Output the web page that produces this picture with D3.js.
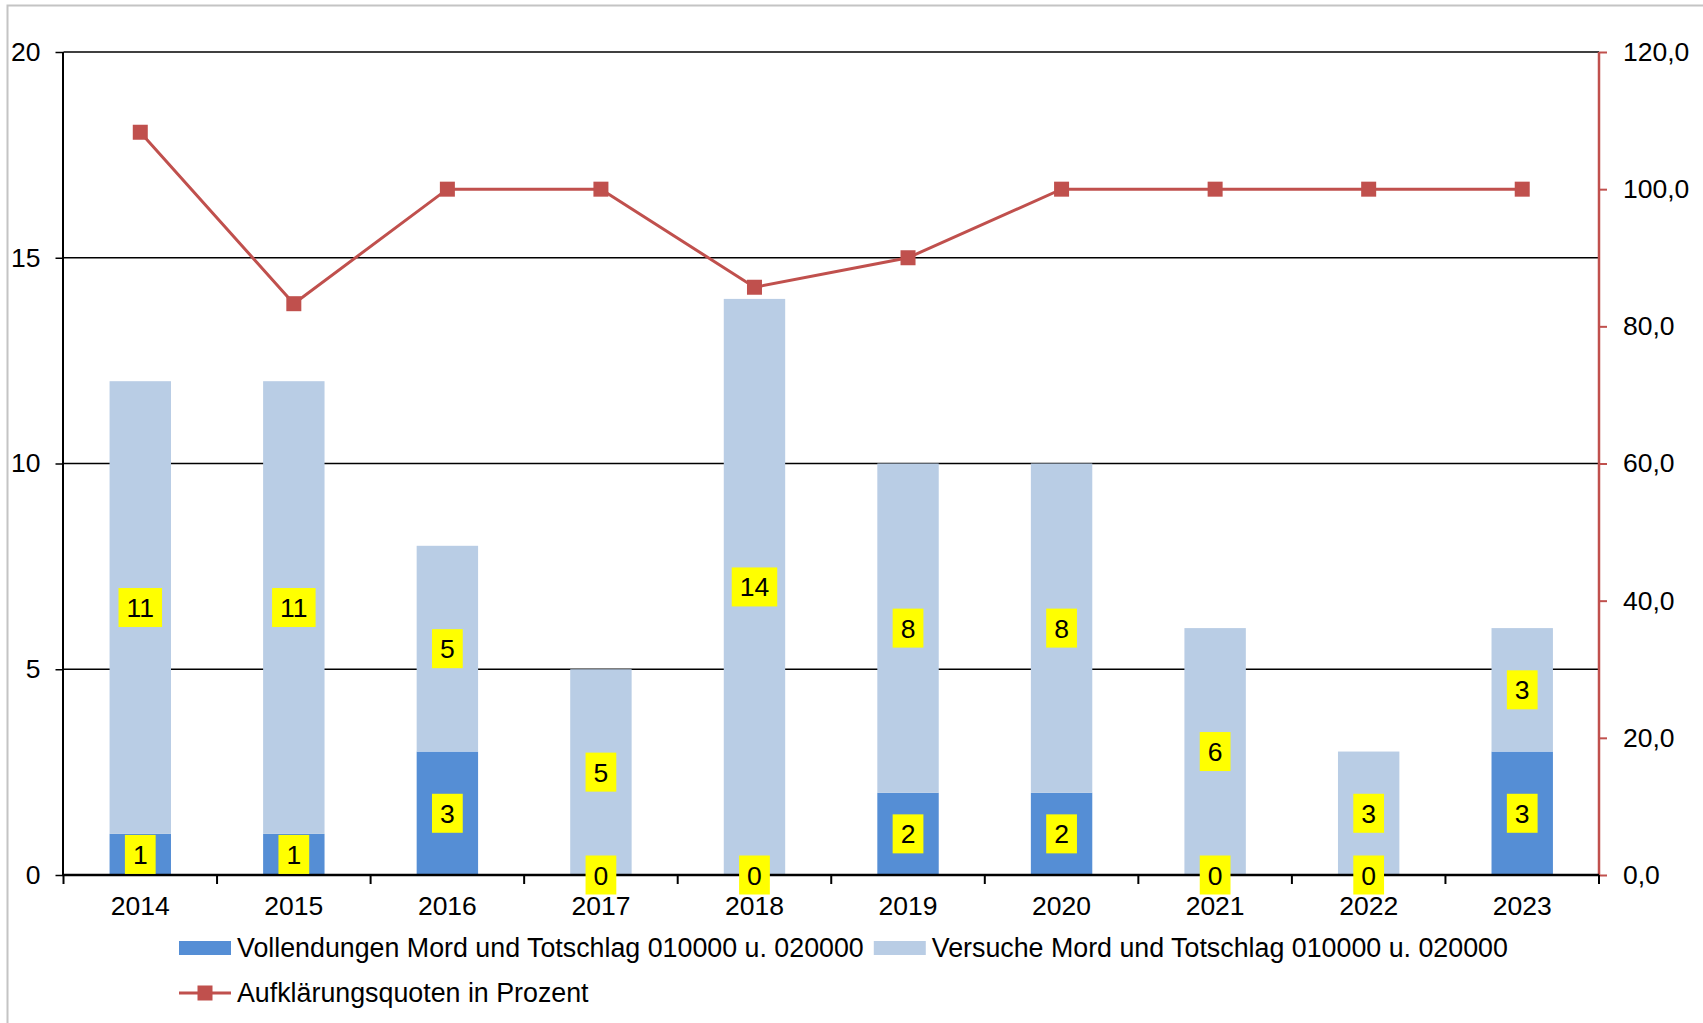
<!DOCTYPE html>
<html>
<head>
<meta charset="utf-8">
<script src="https://cdn.jsdelivr.net/npm/d3@7"></script>
<style>
  html, body { margin: 0; padding: 0; background: #fff; }
  svg { display: block; }
  text { font-family: Arial, "Liberation Sans", sans-serif; fill: #000; }
</style>
</head>
<body>
<svg id="chart" width="1703" height="1023"></svg>
<script>
const years = ["2014","2015","2016","2017","2018","2019","2020","2021","2022","2023"];
const vollendungen = [1, 1, 3, 0, 0, 2, 2, 0, 0, 3];
const versuche = [11, 11, 5, 5, 14, 8, 8, 6, 3, 3];
const quote = [108.3, 83.3, 100.0, 100.0, 85.7, 90.0, 100.0, 100.0, 100.0, 100.0];
const leftTicks = [0, 5, 10, 15, 20];
const rightTicks = [0, 20, 40, 60, 80, 100, 120];
const seriesNames = [
  "Vollendungen Mord und Totschlag 010000 u. 020000",
  "Versuche Mord und Totschlag 010000 u. 020000",
  "Aufklärungsquoten in Prozent"
];

const colDark = "#558ED5", colLight = "#B9CDE5", colLine = "#C0504D";
const svg = d3.select("#chart");
const X0 = 63.5, X1 = 1599, Y0 = 52, Y1 = 875;
const FS = 26.5, LFS = 26.8;

// frame
svg.append("path").attr("d", `M7.5,1023 V5.5 H1703`).attr("fill", "none")
  .attr("stroke", "#c4c4c4").attr("stroke-width", 2);

const x = d3.scaleBand().domain(years).range([X0, X1]).paddingInner(0.6).paddingOuter(0.3);
const xc = d => x(d) + x.bandwidth() / 2;
const yL = d3.scaleLinear().domain([0, 20]).range([Y1, Y0]);
const yR = d3.scaleLinear().domain([0, 120]).range([Y1, Y0]);

// gridlines
svg.append("g").selectAll("line").data(leftTicks.filter(t => t > 0)).join("line")
  .attr("x1", X0).attr("x2", X1).attr("y1", d => yL(d)).attr("y2", d => yL(d))
  .attr("stroke", "#000").attr("stroke-width", 1.5);

// bars
const stack = years.map((y, i) => ({year: y, v: vollendungen[i], s: versuche[i]}));
const gb = svg.append("g");
gb.selectAll("rect.d").data(stack).join("rect")
  .attr("x", d => x(d.year)).attr("width", x.bandwidth())
  .attr("y", d => yL(d.v)).attr("height", d => yL(0) - yL(d.v)).attr("fill", colDark);
gb.selectAll("rect.l").data(stack).join("rect")
  .attr("x", d => x(d.year)).attr("width", x.bandwidth())
  .attr("y", d => yL(d.v + d.s)).attr("height", d => yL(d.v) - yL(d.v + d.s)).attr("fill", colLight);

// left axis
const axL = svg.append("g").attr("transform", `translate(${X0},0)`)
  .call(d3.axisLeft(yL).tickValues(leftTicks).tickSize(8).tickPadding(15).tickFormat(d3.format("d")));
axL.select(".domain").attr("stroke", "#000").attr("stroke-width", 2).attr("d", `M-0.5,${Y1}V${Y0}`);
axL.selectAll(".tick line").attr("stroke", "#000").attr("stroke-width", 1.5);
axL.selectAll("text").attr("font-size", FS).style("font-family", "Arial, 'Liberation Sans', sans-serif").attr("fill", "#000");

// right axis
const axR = svg.append("g").attr("transform", `translate(${X1},0)`)
  .call(d3.axisRight(yR).tickValues(rightTicks).tickSize(8).tickPadding(16)
    .tickFormat(d => d3.format(".1f")(d).replace(".", ",")));
axR.select(".domain").attr("stroke", colLine).attr("stroke-width", 2.5).attr("d", `M0,${Y1}V${Y0}`);
axR.selectAll(".tick line").attr("stroke", colLine).attr("stroke-width", 2);
axR.selectAll("text").attr("font-size", FS).style("font-family", "Arial, 'Liberation Sans', sans-serif").attr("fill", "#000");

// bottom axis
const boundaries = d3.range(years.length + 1).map(i => X0 + i * (X1 - X0) / years.length);
svg.append("line").attr("x1", X0 - 1).attr("x2", X1).attr("y1", Y1).attr("y2", Y1)
  .attr("stroke", "#000").attr("stroke-width", 2.5);
svg.append("g").selectAll("line").data(boundaries).join("line")
  .attr("x1", d => d).attr("x2", d => d).attr("y1", Y1).attr("y2", Y1 + 9)
  .attr("stroke", "#000").attr("stroke-width", 2);
svg.append("g").selectAll("text").data(years).join("text")
  .attr("x", d => xc(d)).attr("y", Y1 + 31).attr("dy", "0.35em")
  .attr("text-anchor", "middle").attr("font-size", FS).text(d => d);

// line
const lg = svg.append("g");
lg.append("path").datum(years.map((y, i) => [xc(y), yR(quote[i])]))
  .attr("d", d3.line()).attr("fill", "none").attr("stroke", colLine).attr("stroke-width", 3);
lg.selectAll("rect").data(years).join("rect")
  .attr("x", (d) => xc(d) - 7.5).attr("y", (d, i) => yR(quote[i]) - 7.5)
  .attr("width", 15).attr("height", 15).attr("fill", colLine);

// data labels
const labels = [];
stack.forEach(d => {
  labels.push({x: xc(d.year), y: yL(d.v / 2), t: String(d.v)});
  labels.push({x: xc(d.year), y: yL(d.v + d.s / 2), t: String(d.s)});
});
const gl = svg.append("g");
labels.forEach(l => {
  const g = gl.append("g");
  const r = g.append("rect").attr("fill", "#FFFF00");
  const t = g.append("text").attr("x", l.x).attr("y", l.y).attr("dy", "0.36em")
    .attr("text-anchor", "middle").attr("font-size", FS).text(l.t);
  const w = t.node().getComputedTextLength() + 16;
  r.attr("x", l.x - w / 2).attr("y", l.y - 19.5).attr("width", w).attr("height", 39);
});

// legend
const leg = svg.append("g");
const ly1 = 948, ly2 = 993;
leg.append("rect").attr("x", 179).attr("y", ly1 - 7).attr("width", 52).attr("height", 14).attr("fill", colDark);
const t1 = leg.append("text").attr("x", 237).attr("y", ly1).attr("dy", "0.35em").attr("font-size", LFS).text(seriesNames[0]);
const sx2 = 237 + t1.node().getComputedTextLength() + 10;
leg.append("rect").attr("x", sx2).attr("y", ly1 - 7).attr("width", 52).attr("height", 14).attr("fill", colLight);
leg.append("text").attr("x", sx2 + 58).attr("y", ly1).attr("dy", "0.35em").attr("font-size", LFS).text(seriesNames[1]);
leg.append("line").attr("x1", 179).attr("x2", 231).attr("y1", ly2).attr("y2", ly2).attr("stroke", colLine).attr("stroke-width", 3);
leg.append("rect").attr("x", 205 - 7.5).attr("y", ly2 - 7.5).attr("width", 15).attr("height", 15).attr("fill", colLine);
leg.append("text").attr("x", 237).attr("y", ly2).attr("dy", "0.35em").attr("font-size", LFS).text(seriesNames[2]);
</script>
</body>
</html>
